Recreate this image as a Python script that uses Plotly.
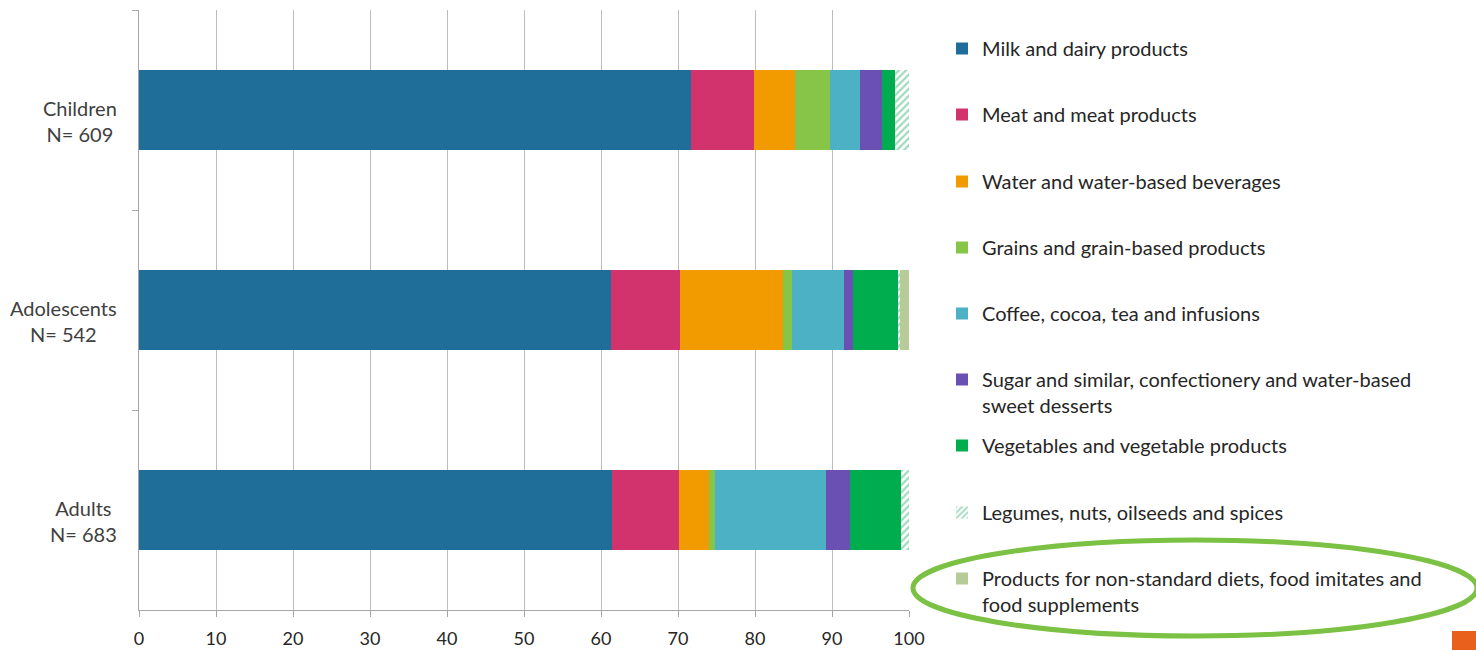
import plotly.graph_objects as go

groups = ["Children<br>N= 609", "Adolescents<br>N= 542", "Adults<br>N= 683"]
categories = ["Milk and dairy products",
              "Meat and meat products",
              "Water and water-based beverages",
              "Grains and grain-based products",
              "Coffee, cocoa, tea and infusions",
              "Sugar and similar, confectionery and water-based<br>sweet desserts",
              "Vegetables and vegetable products",
              "Legumes, nuts, oilseeds and spices",
              "Products for non-standard diets, food imitates and<br>food supplements"]
milk = [71.7, 61.3, 61.4]
meat = [8.2, 9.0, 8.7]
water = [5.3, 13.4, 3.9]
grains = [4.6, 1.1, 0.8]
coffee = [3.8, 6.7, 14.4]
sugar = [2.9, 1.2, 3.2]
vegetables = [1.7, 5.9, 6.6]
legumes = [1.8, 0.2, 1.0]
products = [0.0, 1.2, 0.0]
series = [milk, meat, water, grains, coffee, sugar, vegetables, legumes, products]
colors = ["#1F6E9A", "#D3336D", "#F29B00", "#86C548", "#4DB1C6",
          "#6A50B2", "#00AD4E", "#FFFFFF", "#B7CB98"]
legend_text_y = [48, 114, 181, 247, 313, 379, 445, 512, 578]

W, H = 1476, 650
L, R, T, B = 139, 909, 10, 610
def px(x):
    return (x - L) / (R - L)
def py(y):
    return (B - y) / (B - T)

fig = go.Figure()
legends = {}
for i, (name, vals, col) in enumerate(zip(categories, series, colors)):
    lname = "legend" if i == 0 else f"legend{i+1}"
    marker = dict(color=col, line=dict(width=0))
    if i == 7:
        marker = dict(color="#FFFFFF", line=dict(width=0),
                      pattern=dict(shape="/", fgcolor="#3DB67A", bgcolor="#FFFFFF",
                                   size=5, solidity=0.45))
    fig.add_trace(go.Bar(x=vals, y=groups, orientation="h", name=name,
                         marker=marker, legend=lname, hoverinfo="x+name"))
    legends[lname] = dict(x=px(942), y=py(legend_text_y[i] - 19), xanchor="left",
                          yanchor="top", valign="top", bgcolor="rgba(0,0,0,0)",
                          font=dict(family="Lato", size=20, color="#262626"))

fig.update_layout(**legends)

for g in groups:
    fig.add_annotation(x=0, y=g, xref="paper", yref="y", text=g, showarrow=False,
                       xanchor="right", xshift=-20, yshift=-11, align="center",
                       font=dict(family="Lato", size=20, color="#404040"))

fig.add_shape(type="circle", xref="paper", yref="paper",
              x0=px(913), x1=px(1477), y0=py(540), y1=py(636),
              line=dict(color="#7BC143", width=5))
fig.add_shape(type="rect", xref="paper", yref="paper",
              x0=px(1452), x1=px(1480), y0=py(631), y1=py(652),
              line=dict(width=0), fillcolor="#E8601C")

fig.update_layout(
    width=W, height=H, barmode="stack", bargap=0.6,
    margin=dict(l=L, r=W - R, t=T, b=H - B, autoexpand=False),
    plot_bgcolor="white", paper_bgcolor="white",
    showlegend=True,
    xaxis=dict(range=[0, 100], dtick=10, tick0=0, showgrid=True, gridcolor="#BDBDBD",
               gridwidth=1, zeroline=False, showline=True, linecolor="#A6A6A6",
               ticks="outside", ticklen=6, tickcolor="#A6A6A6", ticklabelstandoff=6,
               automargin=False,
               tickfont=dict(family="Lato", size=18, color="#262626")),
    yaxis=dict(autorange="reversed", showline=True, linecolor="#A6A6A6",
               ticks="outside", tickson="boundaries", ticklen=6, tickcolor="#A6A6A6",
               showticklabels=False, showgrid=False, automargin=False),
)

fig.write_html("out.html")
